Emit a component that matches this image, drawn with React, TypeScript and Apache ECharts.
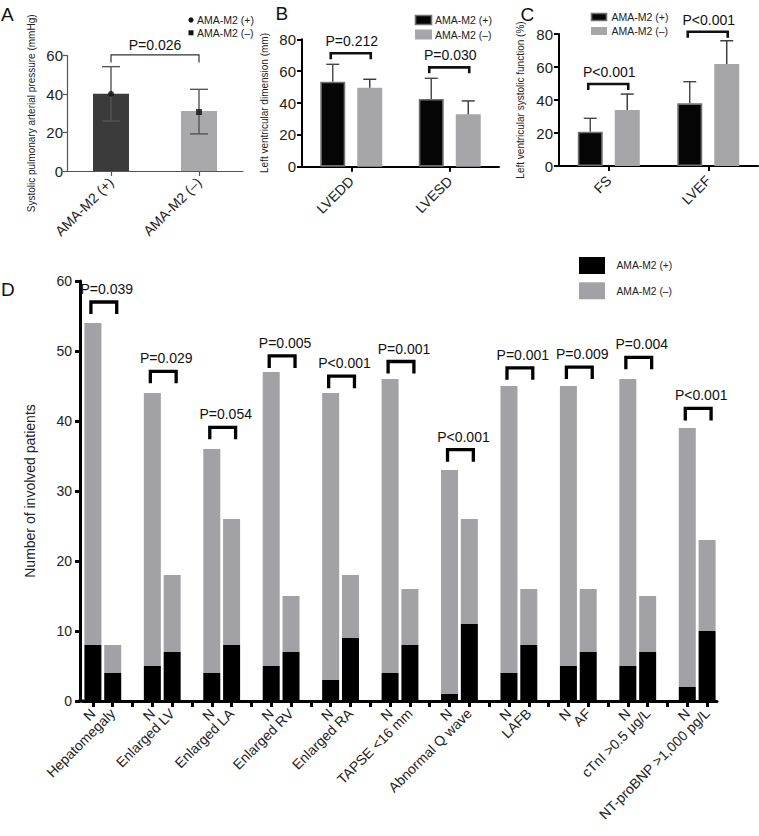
import React, { useEffect, useRef } from "react";
import * as echarts from "echarts";

const FONT = "'Liberation Sans', Arial, Helvetica, sans-serif";

// ---------- Panel A ----------
const aCategories = ["AMA-M2 (+)", "AMA-M2 (–)"];
const aMeans = [40.2, 31.2];
const aPoints = [40.2, 30.7];
const aErrLow = [26, 19.3];
const aErrHigh = [54.3, 42.5];
const aPValue = "P=0.026";
const aBracketY = 60.4;

// ---------- Panel B ----------
const bCategories = ["LVEDD", "LVESD"];
const bPos = [53.4, 42.5];
const bPosErr = [64.3, 55.5];
const bNeg = [49.6, 32.9];
const bNegErr = [54.9, 41.3];
const bPValues = ["P=0.212", "P=0.030"];
const bBracketY = [71.2, 62.4];

// ---------- Panel C ----------
const cCategories = ["FS", "LVEF"];
const cPos = [20.8, 38];
const cPosErr = [28.9, 51.1];
const cNeg = [33.9, 61.8];
const cNegErr = [43.6, 75.9];
const cPValues = ["P<0.001", "P<0.001"];
const cBracketY = [49.7, 81.4];

// ---------- Panel D ----------
const dGroups = [
  "Hepatomegaly",
  "Enlarged LV",
  "Enlarged LA",
  "Enlarged RV",
  "Enlarged RA",
  "TAPSE <16 mm",
  "Abnormal Q wave",
  "LAFB",
  "AF",
  "cTnI >0.5 μg/L",
  "NT-proBNP >1,000 pg/L",
];
const dPosN = [8, 5, 4, 5, 3, 4, 1, 4, 5, 5, 2];
const dPosX = [4, 7, 8, 7, 9, 8, 11, 8, 7, 7, 10];
const dNegN = [46, 39, 32, 42, 41, 42, 32, 41, 40, 41, 37];
const dNegX = [4, 11, 18, 8, 9, 8, 15, 8, 9, 8, 13];
const dPValues = [
  "P=0.039",
  "P=0.029",
  "P=0.054",
  "P=0.005",
  "P<0.001",
  "P=0.001",
  "P<0.001",
  "P=0.001",
  "P=0.009",
  "P=0.004",
  "P<0.001",
];
const dBracketY = [57.0, 47.1, 39.1, 49.3, 46.4, 48.5, 35.9, 47.6, 47.7, 49.1, 41.8];
const dTicks = [0, 10, 20, 30, 40, 50, 60];

const LEG_PLUS = "AMA-M2 (+)";
const LEG_MINUS = "AMA-M2 (–)";

// build panel D categories / stacks
const dCategories: string[] = [];
const dPosData: any[] = [];
const dNegData: any[] = [];
dGroups.forEach((g, i) => {
  dCategories.push("N", g);
  dPosData.push(dPosN[i], dPosX[i]);
  dNegData.push(dNegN[i], dNegX[i]);
  if (i < dGroups.length - 1) {
    dCategories.push("");
    dPosData.push("-");
    dNegData.push("-");
  }
});

const BAR_OFF = 18.5;

function textEl(text: string, x: number, y: number, size: number, fill = "#111") {
  return {
    type: "text",
    x,
    y,
    style: {
      text,
      x: 0,
      y: 0,
      fill,
      font: `${size}px ${FONT}`,
      fontSize: size,
      fontFamily: FONT,
      textAlign: "center",
      textVerticalAlign: "middle",
      align: "center",
      verticalAlign: "middle",
    },
  };
}

function bracketShape(x1: number, x2: number, y: number, leg: number, lw: number, color: string) {
  return {
    type: "polyline",
    shape: {
      points: [
        [x1, y + leg],
        [x1, y],
        [x2, y],
        [x2, y + leg],
      ],
    },
    style: { stroke: color, lineWidth: lw, fill: null, lineJoin: "miter" },
  };
}

function errSeries(gi: number, data: number[][], offset: number, color: string, cap: number, twoSided: boolean) {
  return {
    type: "custom",
    xAxisIndex: gi,
    yAxisIndex: gi,
    z: 5,
    silent: true,
    data,
    renderItem: (params: any, api: any) => {
      const c = api.value(0);
      const lo = api.coord([c, api.value(1)]);
      const hi = api.coord([c, api.value(2)]);
      const cx = lo[0] + offset;
      const st = { stroke: color, lineWidth: 1.4 };
      const children: any[] = [
        { type: "line", shape: { x1: cx, y1: lo[1], x2: cx, y2: hi[1] }, style: st },
        { type: "line", shape: { x1: cx - cap / 2, y1: hi[1], x2: cx + cap / 2, y2: hi[1] }, style: st },
      ];
      if (twoSided) {
        children.push({ type: "line", shape: { x1: cx - cap / 2, y1: lo[1], x2: cx + cap / 2, y2: lo[1] }, style: st });
      }
      return { type: "group", children };
    },
  };
}

function pairBracketSeries(gi: number, yVals: number[], labels: string[]) {
  return {
    type: "custom",
    xAxisIndex: gi,
    yAxisIndex: gi,
    z: 6,
    silent: true,
    data: yVals.map((y, i) => [i, y]),
    renderItem: (params: any, api: any) => {
      const p = api.coord([api.value(0), api.value(1)]);
      const x1 = p[0] - BAR_OFF - 2;
      const x2 = p[0] + BAR_OFF + 1;
      return {
        type: "group",
        children: [
          bracketShape(x1, x2, p[1], 6, 2.6, "#111"),
          textEl(labels[params.dataIndex], (x1 + x2) / 2 + 1, p[1] - 12, 14),
        ],
      };
    },
  };
}

const axisLabelStyle = (size: number) => ({ fontSize: size, color: "#222", fontFamily: FONT });

function catAxis(gi: number, data: string[], color: string, lw: number, tickLen: number, margin: number, size: number) {
  return {
    gridIndex: gi,
    type: "category",
    data,
    axisLine: { show: true, lineStyle: { color, width: lw } },
    axisTick: { show: true, alignWithLabel: true, interval: 0, length: tickLen, lineStyle: { color, width: lw } },
    axisLabel: { interval: 0, rotate: 45, margin, ...axisLabelStyle(size), hideOverlap: false },
    splitLine: { show: false },
  };
}

function valAxis(
  gi: number,
  max: number,
  interval: number,
  color: string,
  lw: number,
  name: string,
  nameGap: number,
  nameSize: number,
  labelSize: number,
  margin: number,
  tickLen: number,
  offset = 0
) {
  return {
    gridIndex: gi,
    type: "value",
    min: 0,
    max,
    interval,
    offset,
    name,
    nameLocation: "middle",
    nameRotate: 90,
    nameGap,
    nameMoveOverlap: false,
    nameTextStyle: { fontSize: nameSize, color: "#222", fontFamily: FONT },
    axisLine: { show: true, lineStyle: { color, width: lw } },
    axisTick: { show: true, length: tickLen, lineStyle: { color, width: lw } },
    axisLabel: { margin, ...axisLabelStyle(labelSize) },
    splitLine: { show: false },
  };
}

function buildOption() {
  const grids = [
    { left: 67, top: 55.7, width: 176, height: 115.3 },
    { left: 302, top: 39.3, width: 197, height: 127.4 },
    { left: 559, top: 34, width: 199, height: 132 },
    { left: 83, top: 281, width: 634, height: 420 },
  ].map((g) => ({ ...g, containLabel: false, outerBoundsMode: "none", show: false }));

  const series: any[] = [];

  // Panel A
  series.push({
    type: "bar",
    xAxisIndex: 0,
    yAxisIndex: 0,
    barWidth: 36,
    data: aMeans.map((v, i) => ({ value: v, itemStyle: { color: i === 0 ? "#3b3b3b" : "#a9a9ab" } })),
  });
  series.push(errSeries(0, aCategories.map((_, i) => [i, aErrLow[i], aErrHigh[i]]), 0, "#555", 18, true));
  series.push({
    type: "scatter",
    xAxisIndex: 0,
    yAxisIndex: 0,
    z: 7,
    symbolSize: 6,
    data: aPoints.map((v, i) => ({ value: [i, v], symbol: i === 0 ? "circle" : "rect" })),
    itemStyle: { color: "#111" },
  });
  series.push({
    type: "custom",
    xAxisIndex: 0,
    yAxisIndex: 0,
    z: 6,
    silent: true,
    data: [[0, aBracketY]],
    renderItem: (params: any, api: any) => {
      const p1 = api.coord([0, api.value(1)]);
      const p2 = api.coord([1, api.value(1)]);
      return {
        type: "group",
        children: [
          bracketShape(p1[0], p2[0], p1[1], 7.5, 1.2, "#333"),
          textEl(aPValue, (p1[0] + p2[0]) / 2, p1[1] - 9.5, 14),
        ],
      };
    },
  });

  // Panel B and C
  const pairPanels = [
    { gi: 1, pos: bPos, posErr: bPosErr, neg: bNeg, negErr: bNegErr, by: bBracketY, pv: bPValues },
    { gi: 2, pos: cPos, posErr: cPosErr, neg: cNeg, negErr: cNegErr, by: cBracketY, pv: cPValues },
  ];
  pairPanels.forEach((p) => {
    series.push({
      type: "bar",
      name: LEG_PLUS,
      xAxisIndex: p.gi,
      yAxisIndex: p.gi,
      barWidth: 25,
      barGap: "48%",
      data: p.pos,
      itemStyle: { color: "#050505", borderColor: "#707070", borderWidth: 1.6 },
    });
    series.push({
      type: "bar",
      name: LEG_MINUS,
      xAxisIndex: p.gi,
      yAxisIndex: p.gi,
      barWidth: 25,
      barGap: "48%",
      data: p.neg,
      itemStyle: { color: "#a6a6a8" },
    });
    series.push(errSeries(p.gi, p.pos.map((v, i) => [i, v, p.posErr[i]]), -BAR_OFF, "#444", 13, false));
    series.push(errSeries(p.gi, p.neg.map((v, i) => [i, v, p.negErr[i]]), BAR_OFF, "#333", 13, false));
    series.push(pairBracketSeries(p.gi, p.by, p.pv));
  });

  // Panel D
  series.push({
    type: "bar",
    name: LEG_PLUS,
    xAxisIndex: 3,
    yAxisIndex: 3,
    stack: "d",
    barWidth: 17,
    data: dPosData,
    itemStyle: { color: "#000" },
  });
  series.push({
    type: "bar",
    name: LEG_MINUS,
    xAxisIndex: 3,
    yAxisIndex: 3,
    stack: "d",
    barWidth: 17,
    data: dNegData,
    itemStyle: { color: "#a2a2a6" },
  });
  series.push({
    type: "custom",
    xAxisIndex: 3,
    yAxisIndex: 3,
    z: 6,
    silent: true,
    data: dBracketY.map((y, i) => [i * 3, y]),
    renderItem: (params: any, api: any) => {
      const c = api.value(0);
      const p1 = api.coord([c, api.value(1)]);
      const p2 = api.coord([c + 1, api.value(1)]);
      const x1 = p1[0] - 2;
      const x2 = p2[0] + 4;
      return {
        type: "group",
        children: [
          bracketShape(x1, x2, p1[1], 12, 3.3, "#000"),
          textEl(dPValues[params.dataIndex], (x1 + x2) / 2 + 3, p1[1] - 13, 14),
        ],
      };
    },
  });

  const legendText = (t: string, x: number, y: number, size = 10.5) => ({
    type: "text",
    x,
    y,
    style: {
      text: t,
      fill: "#222",
      font: `${size}px ${FONT}`,
      textAlign: "left",
      textVerticalAlign: "middle",
      align: "left",
      verticalAlign: "middle",
    },
  });
  const letter = (t: string, x: number, y: number) => ({
    type: "text",
    x,
    y,
    style: {
      text: t,
      fill: "#111",
      font: `19px ${FONT}`,
      textAlign: "left",
      textVerticalAlign: "middle",
      align: "left",
      verticalAlign: "middle",
    },
  });

  const graphic: any[] = [
    letter("A", 1, 14),
    letter("B", 275.5, 13.5),
    letter("C", 520.5, 14),
    letter("D", 1, 289),
    // legend A
    { type: "circle", shape: { cx: 191, cy: 20, r: 2.6 }, style: { fill: "#111" } },
    { type: "rect", shape: { x: 188.5, y: 30.3, width: 5, height: 5 }, style: { fill: "#111" } },
    legendText(LEG_PLUS, 197, 20),
    legendText(LEG_MINUS, 197, 33),
    // legend B
    { type: "rect", shape: { x: 415.5, y: 15.5, width: 16, height: 9 }, style: { fill: "#050505", stroke: "#707070", lineWidth: 1.6 } },
    { type: "rect", shape: { x: 415, y: 29.5, width: 17, height: 10 }, style: { fill: "#a6a6a8" } },
    legendText(LEG_PLUS, 435, 20),
    legendText(LEG_MINUS, 435, 34.5),
    // legend C
    { type: "rect", shape: { x: 591.5, y: 13.5, width: 15, height: 7 }, style: { fill: "#050505", stroke: "#707070", lineWidth: 1.6 } },
    { type: "rect", shape: { x: 591, y: 27, width: 16, height: 8 }, style: { fill: "#a6a6a8" } },
    legendText(LEG_PLUS, 611.5, 17),
    legendText(LEG_MINUS, 611.5, 30.7),
    // legend D
    { type: "rect", shape: { x: 579, y: 257, width: 26, height: 17 }, style: { fill: "#000" } },
    { type: "rect", shape: { x: 579, y: 282.3, width: 26, height: 17 }, style: { fill: "#a2a2a6" } },
    legendText(LEG_PLUS, 616.5, 265.5, 10.3),
    legendText(LEG_MINUS, 616.5, 291.5, 10.3),
    // join of D axes at origin
    { type: "rect", shape: { x: 78.5, y: 699.5, width: 5.5, height: 3 }, style: { fill: "#000" } },
  ];

  return {
    animation: false,
    backgroundColor: "#fff",
    textStyle: { fontFamily: FONT },
    grid: grids,
    xAxis: [
      catAxis(0, aCategories, "#555", 1.2, 5, 9, 14),
      catAxis(1, bCategories, "#000", 2, 5, 12, 14),
      catAxis(2, cCategories, "#000", 2, 5, 12, 14),
      catAxis(3, dCategories, "#000", 3, 6, 10, 14),
    ],
    yAxis: [
      valAxis(0, 60, 20, "#555", 1.2, "Systolic pulmonary arterial pressure (mmHg)", 31, 10, 15, 4, 4),
      valAxis(1, 80, 20, "#000", 2, "Left ventricular dimension (mm)", 33, 10, 15, 6, 5),
      valAxis(2, 80, 20, "#000", 2, "Left ventricular systolic function (%)", 34, 10, 15, 6, 5),
      valAxis(3, dTicks[dTicks.length - 1], dTicks[1] - dTicks[0], "#000", 3, "Number of involved patients", 43, 14, 14, 8, 5, 3),
    ],
    series,
    graphic,
  };
}

export default function App() {
  const ref = useRef<HTMLDivElement>(null);
  useEffect(() => {
    if (!ref.current) return;
    const chart = echarts.init(ref.current, null, { renderer: "svg" });
    chart.setOption(buildOption() as any);
    return () => chart.dispose();
  }, []);
  return (
    <div
      ref={ref}
      style={{ position: "fixed", left: 0, top: 0, width: 759, height: 836, background: "#fff" }}
    />
  );
}
